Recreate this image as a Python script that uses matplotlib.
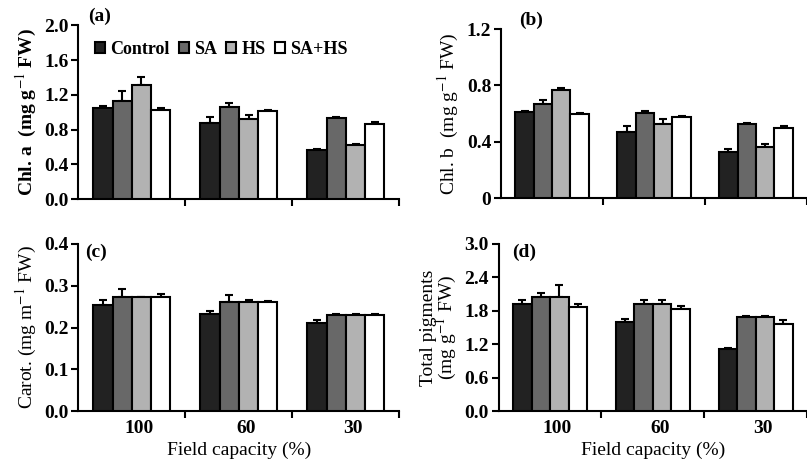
import numpy as np
import matplotlib
matplotlib.use("Agg")
import matplotlib.pyplot as plt
import matplotlib.transforms as mtransforms

plt.rcParams['font.family'] = ['Liberation Serif', 'DejaVu Serif']
plt.rcParams['mathtext.fontset'] = 'stix'

#  Data
groups = ["100", "60", "30"]
treatments = ["Control", "SA", "HS", "SA+HS"]
colors = ["#222222", "#686868", "#b2b2b2", "#ffffff"]

chla = [[1.05, 0.88, 0.56], [1.13, 1.06, 0.93], [1.31, 0.92, 0.62], [1.03, 1.01, 0.87]]
chla_err = [[0.02, 0.06, 0.02], [0.12, 0.05, 0.02], [0.10, 0.05, 0.01], [0.02, 0.02, 0.02]]

chlb = [[0.615, 0.47, 0.33], [0.665, 0.605, 0.525], [0.77, 0.525, 0.36], [0.595, 0.575, 0.50]]
chlb_err = [[0.007, 0.045, 0.018], [0.035, 0.012, 0.012], [0.012, 0.035, 0.022], [0.012, 0.010, 0.010]]

carot = [[0.253, 0.232, 0.211], [0.272, 0.260, 0.229], [0.272, 0.260, 0.229], [0.272, 0.260, 0.229]]
carot_err = [[0.012, 0.008, 0.008], [0.020, 0.018, 0.004], [0.002, 0.007, 0.003], [0.008, 0.003, 0.004]]

total = [[1.92, 1.60, 1.11], [2.04, 1.93, 1.68], [2.05, 1.93, 1.68], [1.87, 1.84, 1.56]]
total_err = [[0.08, 0.05, 0.02], [0.08, 0.06, 0.02], [0.22, 0.06, 0.02], [0.05, 0.05, 0.07]]

fig = plt.figure(figsize=(8.07, 4.61), dpi=100)

boxes = [[0.097, 0.568, 0.398, 0.377],
         [0.621, 0.570, 0.379, 0.367],
         [0.097, 0.108, 0.398, 0.363],
         [0.618, 0.108, 0.382, 0.363]]

panels = [(chla, chla_err, 2.0, 0.4, "%.1f", "Chl. a  (mg g$^{-1}$ FW)", "(a)"),
          (chlb, chlb_err, 1.2, 0.4, None, "Chl. b  (mg g$^{-1}$ FW)", "(b)"),
          (carot, carot_err, 0.4, 0.1, "%.1f", "Carot. (mg m$^{-1}$ FW)", "(c)"),
          (total, total_err, 3.0, 0.6, "%.1f", "Total pigments\n(mg g$^{-1}$ FW)", "(d)")]

x = np.arange(len(groups))
w = 0.18
fs = 14

for k, (vals, errs, ymax, step, fmt, ylab, letter) in enumerate(panels):
    ax = fig.add_axes(boxes[k])
    for i in range(len(treatments)):
        pos = x + (i - 1.5) * w
        ax.bar(pos, vals[i], w, color=colors[i], edgecolor='k', linewidth=1.5,
               label=treatments[i], zorder=3)
        ax.errorbar(pos, vals[i], yerr=[np.zeros(3), errs[i]], fmt='none',
                    ecolor='k', elinewidth=1.5, capsize=3, capthick=1.5, zorder=2)
    ax.set_xlim(-0.5, 2.5)
    ax.set_ylim(0, ymax)
    ticks = np.arange(0, ymax + step / 2, step)
    ax.set_yticks(ticks)
    if fmt is None:
        ax.set_yticklabels(["0", "0.4", "0.8", "1.2"])
    else:
        ax.set_yticklabels([fmt % t for t in ticks])
    ax.set_xticks([0.5, 1.5, 2.5])
    ax.set_xticklabels([])
    ax.tick_params(axis='x', which='major', direction='out', length=5, width=1.5)
    ax.tick_params(axis='y', direction='out', length=5, width=1.5, labelsize=fs, pad=2)
    for t in ax.get_yticklabels():
        t.set_fontweight('bold')
    ax.spines['top'].set_visible(False)
    ax.spines['right'].set_visible(False)
    ax.spines['left'].set_linewidth(1.5)
    ax.spines['bottom'].set_linewidth(1.5)
    ax.set_ylabel(ylab, fontsize=fs, fontweight='bold' if k == 0 else 'normal',
                  labelpad=4, linespacing=0.85)
    if k >= 2:
        ax.set_xticks(x, minor=True)
        ax.set_xticklabels(groups, minor=True, fontsize=fs, fontweight='bold')
        ax.tick_params(axis='x', which='minor', length=0, pad=6)
        off = mtransforms.ScaledTranslation(0.07, 0, fig.dpi_scale_trans)
        for t in ax.get_xticklabels(minor=True):
            t.set_transform(t.get_transform() + off)
        ax.set_xlabel("Field capacity (%)", fontsize=fs, labelpad=4)
    if k == 0:
        ax.text(0.03, 1.0, letter, transform=ax.transAxes, fontsize=fs,
                fontweight='bold', va='bottom')
        ax.legend(loc='upper left', bbox_to_anchor=(0.03, 0.95), ncol=4,
                  frameon=False, handlelength=0.55, handleheight=0.55,
                  handletextpad=0.3, columnspacing=0.5, borderaxespad=0,
                  prop={'weight': 'bold', 'size': 13})
    elif k == 1:
        ax.text(0.06, 1.0, letter, transform=ax.transAxes, fontsize=fs,
                fontweight='bold', va='bottom')
    else:
        ax.text(0.02 if k == 2 else 0.045, 1.0, letter, transform=ax.transAxes,
                fontsize=fs, fontweight='bold', va='top')

fig.savefig("out.png", dpi=100)
